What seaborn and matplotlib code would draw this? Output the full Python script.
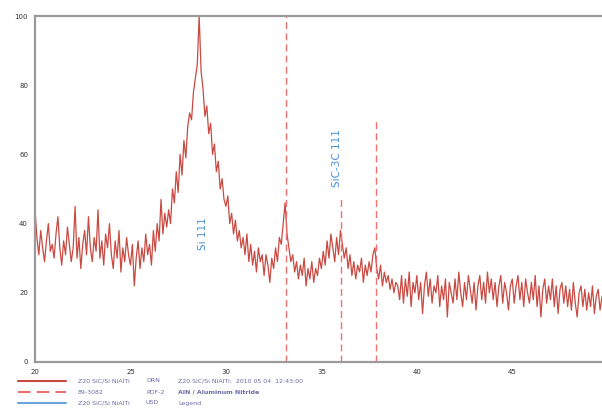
import numpy as np
import pandas as pd
import matplotlib.pyplot as plt
import seaborn as sns
from matplotlib.lines import Line2D

# ---- data ----
two_theta_start = 20.0
two_theta_step = 0.1
intensity = [
    44, 36, 31, 38, 33, 29, 35, 40, 32, 34,
    30, 37, 42, 33, 28, 35, 31, 39, 34, 29,
    33, 45, 30, 36, 27, 34, 38, 31, 42, 33,
    29, 36, 32, 44, 30, 35, 28, 37, 33, 40,
    31, 27, 35, 30, 38, 26, 33, 29, 36, 31,
    28, 34, 22, 30, 35, 27, 33, 29, 37, 31,
    34, 28, 38, 32, 40, 35, 47, 37, 43, 39,
    44, 40, 50, 46, 55, 49, 60, 54, 64, 59,
    68, 72, 70, 78, 82, 86, 100, 84, 79, 71,
    74, 66, 69, 60, 63, 55, 58, 50, 53, 47,
    45, 48, 40, 43, 37, 41, 35, 38, 33, 36,
    31, 37, 29, 34, 28, 32, 26, 33, 29, 31,
    25, 31, 28, 23, 30, 27, 33, 29, 36, 34,
    40, 46, 37, 33, 29, 31, 26, 29, 24, 28,
    25, 30, 22, 27, 24, 29, 23, 27, 25, 30,
    27, 32, 28, 35, 30, 37, 33, 29, 36, 31,
    38, 34, 30, 33, 27, 31, 25, 29, 24, 28,
    26, 30, 23, 28, 25, 29, 26, 31, 33, 27,
    24, 28, 22, 26, 23, 25, 21, 24, 20, 23,
    22, 18, 25, 17, 24, 19, 26, 16, 23, 20,
    25, 18, 23, 14, 22, 26, 19, 24, 17, 22,
    20, 25, 16, 22, 18, 24, 13, 23, 20, 17,
    24, 18, 26, 20, 16, 23, 18, 25, 21, 17,
    23, 15, 22, 25, 18, 23, 17, 26, 20, 24,
    18, 23, 16, 22, 25, 17, 23, 20, 15, 22,
    24, 17, 22, 25, 18, 23, 16, 24, 20, 17,
    23, 18, 25, 16, 22, 13, 21, 24, 17, 22,
    18, 24, 16, 22, 14, 21, 23, 17, 22, 16,
    21, 15, 23, 17, 13, 20, 22, 16, 21, 15,
    20, 16, 22, 14, 19, 21, 15, 19,
]
two_theta = np.round(two_theta_start + two_theta_step * np.arange(len(intensity)), 2)

# AlN reference (PDF 89-3082) stick positions / relative heights
aln_pos = [33.15, 36.05, 37.85]
aln_rel = [100, 47, 70]

# phase labels
label_text = ["Si 111", "SiC-3C 111"]
label_x = [28.8, 35.8]
label_y = [37, 59]

x_ticks = [20, 25, 30, 35, 40, 45]
y_ticks = [0, 20, 40, 60, 80, 100]

legend_rows = [
    ("Z20 SiC/Si NiAlTi", "DRN", "Z20 SiC/Si NiAlTi:  2010 05 04  12:43:00"),
    ("89-3082", "PDF-2", "AlN / Aluminum Nitride"),
    ("Z20 SiC/Si NiAlTi", "USD", "Legend"),
]

df = pd.DataFrame({"two_theta": two_theta, "intensity": intensity})

sns.set_style("white")
fig = plt.figure(figsize=(6.02, 4.12), dpi=100)
ax = fig.add_axes([35 / 602, 1 - 362 / 412, 1 - 35 / 602, (362 - 16) / 412])

red = "#c94a42"
dash_red = "#f07070"
blue = "#4a8fd6"
txt_col = "#6c6ca8"

sns.lineplot(data=df, x="two_theta", y="intensity", ax=ax,
             color=red, linewidth=0.9)

for p, h in zip(aln_pos, aln_rel):
    ax.plot([p, p], [0, h], color=dash_red, linestyle=(0, (5, 3)), linewidth=1.0)

for t, x, y in zip(label_text, label_x, label_y):
    ax.text(x, y, t, rotation=90, ha="center", va="center",
            color=blue, fontsize=7.5)

ax.set_xlim(20, 49.7)
ax.set_ylim(0, 100)
ax.set_xticks(x_ticks)
ax.set_yticks(y_ticks)
ax.set_xlabel("")
ax.set_ylabel("")
ax.tick_params(labelsize=5, colors="#333333", length=3, width=0.8,
               direction="out", pad=2)
for s in ["left", "bottom", "top"]:
    ax.spines[s].set_color("#9a9a9a")
    ax.spines[s].set_linewidth(1.6)
ax.spines["right"].set_visible(False)

# legend block under the plot
row_y = [381, 392, 403]
styles = [(red, "-"), (dash_red, (0, (6, 3))), ("#6aa5e0", "-")]
for (c1, c2, c3), yy, (c, ls) in zip(legend_rows, row_y, styles):
    yf = 1 - yy / 412
    fig.add_artist(Line2D([18 / 602, 66 / 602], [yf, yf], color=c,
                          linestyle=ls, linewidth=1.5))
    fig.text(78 / 602, yf, c1, fontsize=4.5, color=txt_col, va="center")
    fig.text(146 / 602, yf, c2, fontsize=4.5, color=txt_col, va="center")
    fig.text(178 / 602, yf, c3, fontsize=4.5, color=txt_col, va="center",
             fontweight="bold" if "AlN" in c3 else "normal")

fig.savefig("out.png", dpi=100)
